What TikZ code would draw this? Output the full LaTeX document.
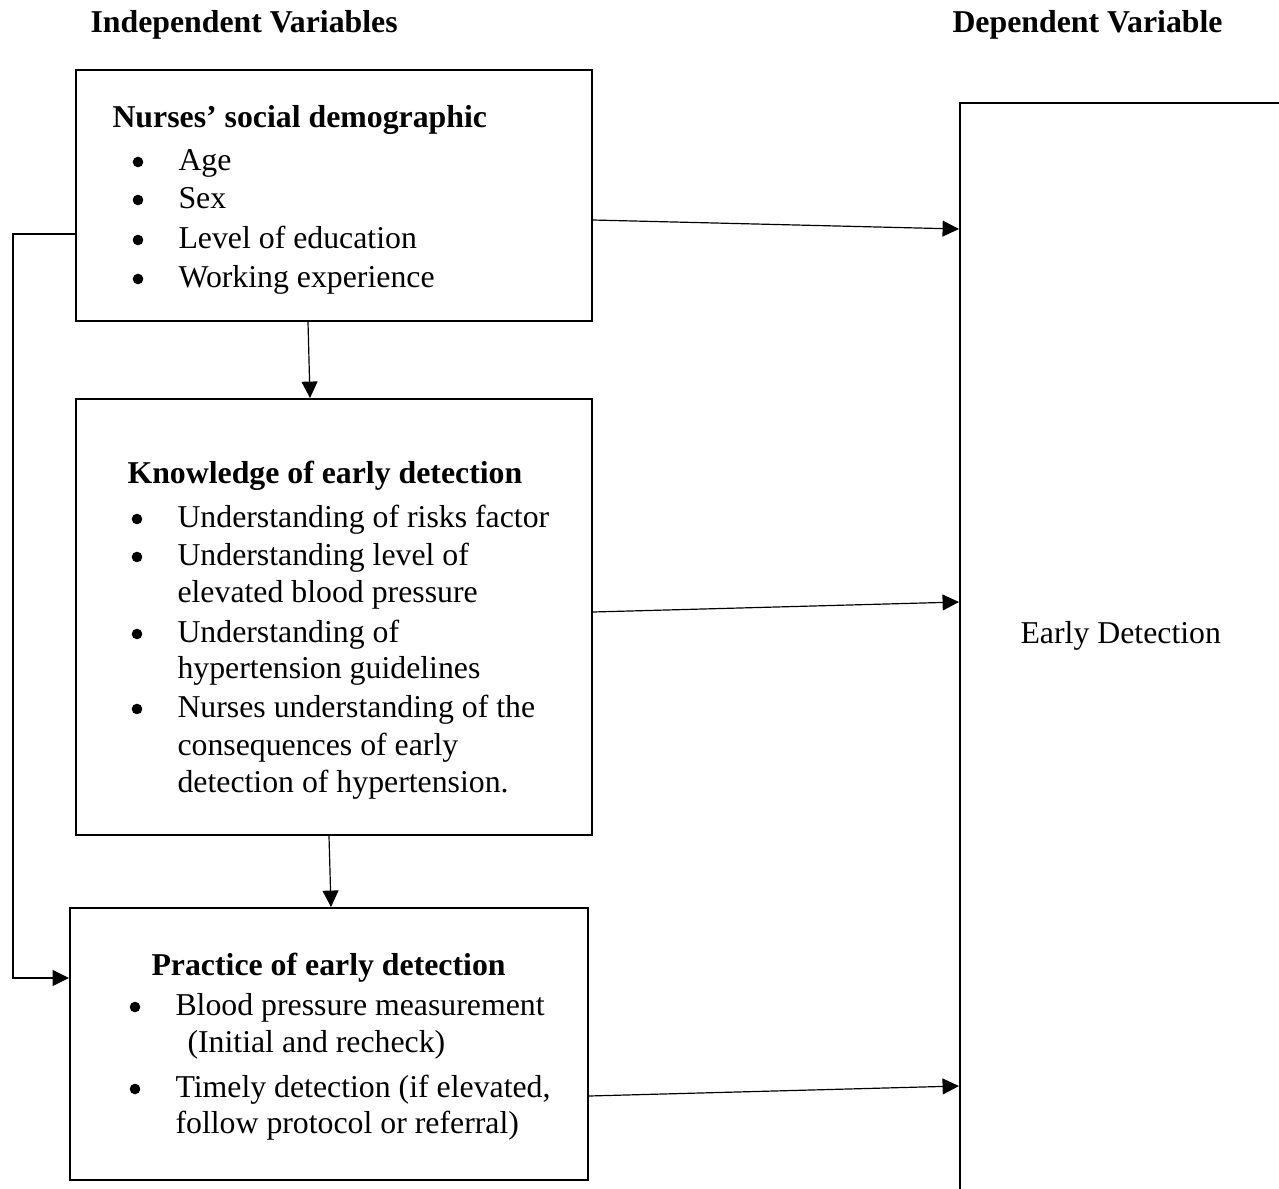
\documentclass[tikz,border=0pt]{standalone}
\usepackage{fontspec}
\setmainfont{Liberation Serif}
\usetikzlibrary{arrows.meta,calc}
\begin{document}
\begin{tikzpicture}[x=0.3774pt,y=-0.3774pt,
  box/.style n args={2}{draw,line width=0.75pt,inner sep=0pt,minimum width=#1*0.3774pt,minimum height=#2*0.3774pt},
  txt/.style={anchor=base west,inner sep=0pt,font=\fontsize{12}{14}\selectfont},
  hd/.style={anchor=base west,inner sep=0pt,font=\bfseries\fontsize{12}{14}\selectfont},
  blt/.style={circle,fill,inner sep=0pt,minimum size=4pt},
  arr/.style={-{Triangle[length=6.2pt,width=6pt]},line width=0.45pt}]
\clip (0,0) rectangle (1279,1189);
% boxes
\node[box={516}{251}] (b1) at (334,195.5) {};
\node[box={516}{436}] (b2) at (334,617) {};
\node[box={518}{272}] (b3) at (329,1044) {};
\node[box={340}{1107}] (dv) at (1130,656.5) {};
% headers
\node[hd] (hi) at (90,32) {Independent Variables};
\node[hd] (hdv) at (952,32) {Dependent Variable};
% box 1
\node[hd] (t1) at (112,127) {Nurses’ social demographic};
\node[blt] (p1a) at (138,162) {};
\node[blt] (p1b) at (138,200) {};
\node[blt] (p1c) at (138,240) {};
\node[blt] (p1d) at (138,279) {};
\node[txt] (l1a) at (178,170) {Age};
\node[txt] (l1b) at (178,208) {Sex};
\node[txt] (l1c) at (178,248) {Level of education};
\node[txt] (l1d) at (178,287) {Working experience};
% box 2
\node[hd] (t2) at (127,483) {Knowledge of early detection};
\node[blt] (p2a) at (137,519) {};
\node[blt] (p2b) at (137,557) {};
\node[blt] (p2c) at (137,634) {};
\node[blt] (p2d) at (137,709) {};
\node[txt] (l2a) at (177,527) {Understanding of risks factor};
\node[txt] (l2b) at (177,565) {Understanding level of};
\node[txt] (l2c) at (177,602) {elevated blood pressure};
\node[txt] (l2d) at (177,642) {Understanding of};
\node[txt] (l2e) at (177,678) {hypertension guidelines};
\node[txt] (l2f) at (177,717) {Nurses understanding of the};
\node[txt] (l2g) at (177,755) {consequences of early};
\node[txt] (l2h) at (177,792) {detection of hypertension.};
% box 3
\node[hd] (t3) at (151,975) {Practice of early detection};
\node[blt] (p3a) at (135,1007) {};
\node[blt] (p3b) at (135,1089) {};
\node[txt] (l3a) at (175,1015) {Blood pressure measurement};
\node[txt] (l3b) at (187,1052) {(Initial and recheck)};
\node[txt] (l3c) at (175,1097) {Timely detection (if elevated,};
\node[txt] (l3d) at (175,1133) {follow protocol or referral)};
% dependent
\node[txt] (ed) at (1020,643) {Early Detection};
% connectors
\draw[arr] ($(b1.east)+(0,24.5)$) -- ($(dv.west)+(0,-427.5)$);
\draw[arr] ($(b2.east)+(0,-5)$) -- ($(dv.west)+(0,-54.5)$);
\draw[arr] ($(b3.east)+(0,52)$) -- ($(dv.west)+(0,429.5)$);
\draw[arr] ($(b1.south)+(-26,0)$) -- ($(b2.north)+(-24,0)$);
\draw[arr] ($(b2.south)+(-5,0)$) -- ($(b3.north)+(2,0)$);
\draw[arr] ($(b1.west)+(0,38.5)$) -- ++(-62,0) |- ($(b3.west)+(0,-66)$);
\end{tikzpicture}
\end{document}
